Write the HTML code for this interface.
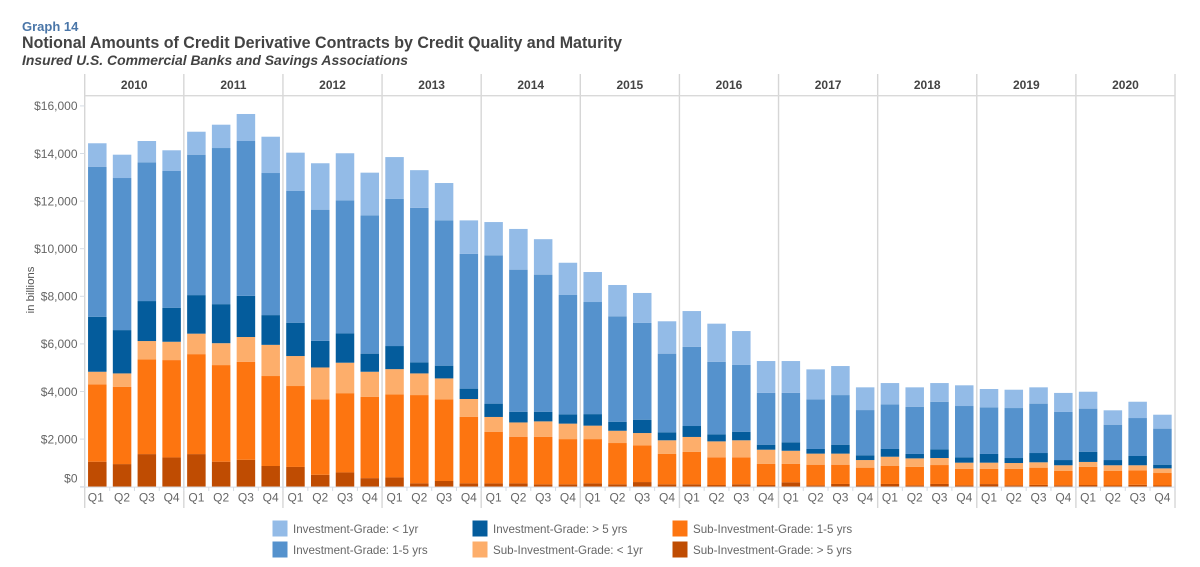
<!DOCTYPE html>
<html lang="en">
<head>
<meta charset="utf-8">
<title>Notional Amounts of Credit Derivative Contracts</title>
<style>
html,body{margin:0;padding:0;background:#fff;width:1200px;height:567px;overflow:hidden}
svg{display:block;font-family:"Liberation Sans",Arial,sans-serif}
</style>
</head>
<body>
<svg id="chart" width="1200" height="567" viewBox="0 0 1200 567" xmlns="http://www.w3.org/2000/svg">
  <text x="22" y="31" font-size="13" font-weight="bold" fill="#4a76a8">Graph 14</text>
  <text x="22" y="48" font-size="16.4" font-weight="bold" fill="#434343" textLength="600" lengthAdjust="spacingAndGlyphs">Notional Amounts of Credit Derivative Contracts by Credit Quality and Maturity</text>
  <text x="22" y="65" font-size="14.2" font-weight="bold" font-style="italic" fill="#434343" textLength="386" lengthAdjust="spacingAndGlyphs">Insured U.S. Commercial Banks and Savings Associations</text>
  <text transform="translate(34 290) rotate(-90)" text-anchor="middle" font-size="11.4" fill="#555">in billions</text>
  <g id="grid"></g>
  <g id="yaxis"></g>
  <g id="bars"></g>
  <g id="xaxis"></g>
  <g id="legend"></g>
</svg>
<script>
const years = ['2010','2011','2012','2013','2014','2015','2016','2017','2018','2019','2020'];
const quarters = ['Q1','Q2','Q3','Q4'];
const yTicks = [0,2000,4000,6000,8000,10000,12000,14000,16000];

const subOver5 = [1050,950,1370,1230,1370,1050,1130,870,830,500,600,360,390,140,240,140,140,140,100,100,140,100,195,100,100,70,100,70,185,60,115,60,115,60,115,60,110,60,75,60,70,50,80,50];
const sub1to5 = [3250,3250,3980,4090,4200,4060,4120,3780,3400,3170,3330,3420,3490,3710,3430,2800,2170,1960,1990,1900,1860,1735,1545,1275,1360,1165,1135,885,770,865,810,740,755,770,795,685,635,685,725,600,760,610,610,525];
const subUnder1 = [530,560,770,770,860,920,1040,1310,1260,1340,1280,1050,1060,910,880,745,620,600,655,650,565,515,515,575,630,670,715,600,555,465,465,320,390,360,295,265,265,250,225,240,210,240,210,195];
const igOver5 = [2310,1820,1680,1430,1620,1640,1730,1250,1400,1120,1230,760,970,465,535,435,560,450,405,390,485,380,560,335,460,295,360,210,355,195,375,200,325,185,365,225,365,210,390,220,430,220,390,155];
const ig1to5 = [6305,6390,5830,5745,5900,6560,6505,5970,5535,5510,5590,5810,6180,6495,6105,5660,6230,5970,5760,5015,4710,4430,4065,3305,3330,3050,2805,2175,2075,2085,2085,1900,1875,1985,2000,2155,1960,2100,2075,2020,1810,1485,1595,1515];
const igUnder1 = [985,980,895,870,965,980,1135,1525,1610,1950,1980,1795,1760,1580,1570,1410,1400,1710,1490,1355,1260,1315,1260,1360,1500,1600,1425,1340,1340,1260,1220,955,895,815,785,870,770,770,685,800,710,605,685,585];

const seriesValues = [subOver5, sub1to5, subUnder1, igOver5, ig1to5, igUnder1];
const seriesSlugs = ['sub-over-5','sub-1-to-5','sub-under-1','ig-over-5','ig-1-to-5','ig-under-1'];
const seriesColors = ['#bf4c02','#fd7510','#fdae6b','#045c9c','#5592cd','#93bbe7'];

const legendLabels = ['Investment-Grade: < 1yr','Investment-Grade: 1-5 yrs','Investment-Grade: > 5 yrs','Sub-Investment-Grade: < 1yr','Sub-Investment-Grade: 1-5 yrs','Sub-Investment-Grade: > 5 yrs'];
const legendColors = ['#93bbe7','#5592cd','#045c9c','#fdae6b','#fd7510','#bf4c02'];

const NS = 'http://www.w3.org/2000/svg';
function mk(tag, attrs, parent, text) {
  const el = document.createElementNS(NS, tag);
  for (const k in attrs) el.setAttribute(k, attrs[k]);
  if (text !== undefined) el.textContent = text;
  parent.appendChild(el);
  return el;
}
function yScale(v) { return 486.7 - v * 0.0238; }
function barCenter(i) { return 97.3 + i * 24.77; }
function yearEdge(k) { return 84.7 + k * 99.12; }

const BAR_W = 18.5;
const grid = document.getElementById('grid');
const yaxis = document.getElementById('yaxis');
const barsG = document.getElementById('bars');
const xaxis = document.getElementById('xaxis');
const legend = document.getElementById('legend');

/* year panels */
for (let k = 0; k <= years.length; k++) {
  const line = mk('line', {x1: yearEdge(k), x2: yearEdge(k), y1: 74, y2: 508, stroke: '#d6d6d6', 'stroke-width': 1.4}, grid);
  
  
}
const headerLine = mk('line', {x1: yearEdge(0), x2: yearEdge(years.length), y1: 95.7, y2: 95.7, stroke: '#d9d9d9', 'stroke-width': 1.4}, grid);


years.forEach(function (label, k) {
  const t = mk('text', {x: (yearEdge(k) + yearEdge(k + 1)) / 2, y: 89, 'text-anchor': 'middle', 'font-size': 12, 'font-weight': 'bold', fill: '#444'}, grid, label);
  
  
});

/* y axis */
yTicks.forEach(function (v) {
  const y = yScale(v);
  const tick = mk('line', {x1: 80, x2: 84.5, y1: y, y2: y, stroke: '#d6dce4', 'stroke-width': 1}, yaxis);
  
  
  const labelY = v === 0 ? y - 4 : y + 4.3;
  const t = mk('text', {x: 77.5, y: labelY, 'text-anchor': 'end', 'font-size': 12, fill: '#666'}, yaxis, '$' + v.toLocaleString('en-US'));
  
  
});

/* bars */
const barCount = subOver5.length;
for (let i = 0; i < barCount; i++) {
  let base = 0;
  seriesValues.forEach(function (values, s) {
    const top = base + values[i];
    const r = mk('rect', {x: barCenter(i) - BAR_W / 2, y: yScale(top), width: BAR_W, height: yScale(base) - yScale(top), fill: seriesColors[s]}, barsG);
    
    
    base = top;
  });
}

/* x axis */
const baseline = mk('line', {x1: 80, x2: yearEdge(years.length), y1: yScale(0) + 0.4, y2: yScale(0) + 0.4, stroke: '#d6dce4', 'stroke-width': 1}, xaxis);


for (let i = 0; i < barCount; i++) {
  const tx = barCenter(i) + 12.4;
  const tick = mk('line', {x1: tx, x2: tx, y1: 487, y2: 491, stroke: '#d6dce4', 'stroke-width': 1}, xaxis);
  
  
  const t = mk('text', {x: barCenter(i) - (i === 0 ? 1.5 : 0), y: 501.5, 'text-anchor': 'middle', 'font-size': 12, fill: '#666'}, xaxis, quarters[i % 4]);
  
  
}

/* legend */
legendLabels.forEach(function (label, i) {
  const col = Math.floor(i / 2);
  const row = i % 2;
  const sx = 272.5 + col * 200;
  const sy = row === 0 ? 520.5 : 541.5;
  const sw = mk('rect', {x: sx, y: sy, width: 15, height: 16, fill: legendColors[i]}, legend);
  
  
  const t = mk('text', {x: sx + 20.5, y: sy + 12.5, 'font-size': 11.6, fill: '#666'}, legend, label);
  
  
});
</script>
</body>
</html>
